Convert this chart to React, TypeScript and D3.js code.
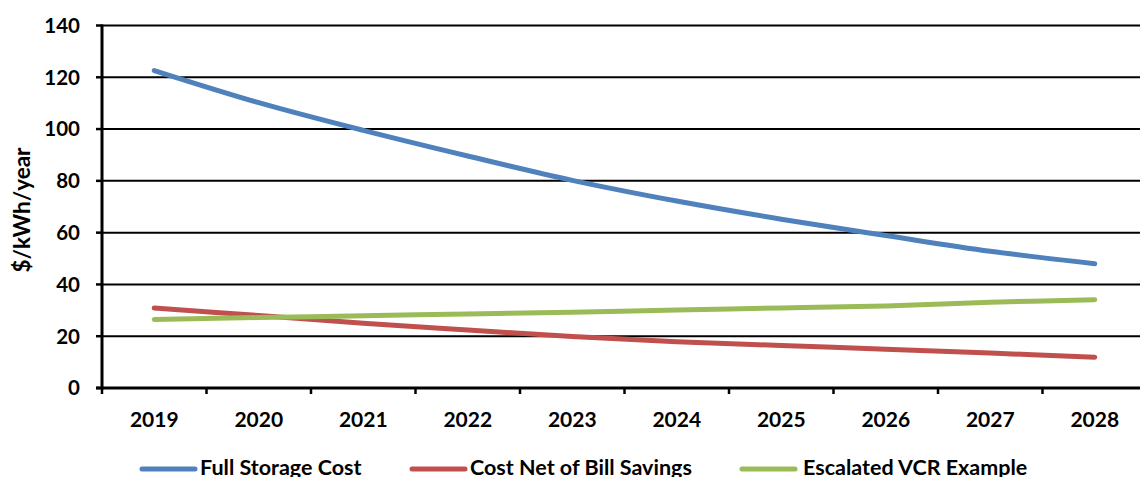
import React from "react";
import * as d3 from "d3";

const years = ["2019", "2020", "2021", "2022", "2023", "2024", "2025", "2026", "2027", "2028"];
const fullStorageCost = [122.6, 110.2, 99.5, 89.6, 80.2, 72.2, 65.2, 58.9, 52.8, 48.0];
const costNetOfBillSavings = [30.9, 28.0, 25.0, 22.4, 19.9, 17.9, 16.4, 15.0, 13.5, 11.9];
const escalatedVCR = [26.5, 27.2, 27.9, 28.6, 29.3, 30.1, 30.9, 31.7, 33.1, 34.1];
const yTicks = [0, 20, 40, 60, 80, 100, 120, 140];

const seriesNames = ["Full Storage Cost", "Cost Net of Bill Savings", "Escalated VCR Example"];
const seriesColors = ["#4F81BD", "#C0504D", "#9BBB59"];
const seriesValues = [fullStorageCost, costNetOfBillSavings, escalatedVCR];

const W = 1140;
const H = 477;
const left = 102;
const bandW = 104.5;
const top = 25.5;
const bottom = 388;
const font = "Lato, 'Open Sans', sans-serif";

export default function App() {
  const x = d3
    .scaleBand<string>()
    .domain(years)
    .range([left, left + bandW * years.length])
    .paddingInner(0)
    .paddingOuter(0);
  const y = d3.scaleLinear().domain([0, 140]).range([bottom, top]);
  const cx = (yr: string) => (x(yr) as number) + x.bandwidth() / 2;

  const line = d3
    .line<number>()
    .x((_, i) => cx(years[i]))
    .y((v) => y(v))
    .curve(d3.curveCatmullRom.alpha(0.5));

  const boundaries = years.map((yr) => x(yr) as number).concat([left + bandW * years.length]);

  const legendItems = [
    { lx: 142, tx: 200 },
    { lx: 412, tx: 470 },
    { lx: 742, tx: 803 },
  ];

  return (
    <svg
      width={W}
      height={H}
      style={{ position: "absolute", left: 0, top: 0, background: "#fff" }}
      fontFamily={font}
    >
      {/* horizontal gridlines */}
      {yTicks
        .filter((t) => t > 0)
        .map((t) => (
          <line key={t} x1={left} x2={W + 20} y1={y(t)} y2={y(t)} stroke="#000" strokeWidth={2} />
        ))}
      {/* y ticks and labels */}
      {yTicks.map((t) => (
        <g key={"yt" + t}>
          <line x1={left - 6} x2={left} y1={y(t)} y2={y(t)} stroke="#000" strokeWidth={2.5} />
          <text
            x={80}
            y={y(t)}
            dy="0.36em"
            textAnchor="end"
            fontSize={20.5}
            fontWeight="bold"
            fill="#000"
          >
            {t}
          </text>
        </g>
      ))}
      {/* x ticks */}
      {boundaries.map((b, i) => (
        <line key={"xt" + i} x1={b} x2={b} y1={bottom} y2={bottom + 6} stroke="#000" strokeWidth={2.5} />
      ))}
      {/* axes */}
      <line x1={left} x2={left} y1={top - 1} y2={bottom + 1.5} stroke="#000" strokeWidth={3} />
      <line x1={left - 6} x2={W + 20} y1={bottom} y2={bottom} stroke="#000" strokeWidth={3} />
      {/* x labels */}
      {years.map((yr) => (
        <text key={yr} x={cx(yr)} y={427} textAnchor="middle" fontSize={21} fontWeight="bold" fill="#000">
          {yr}
        </text>
      ))}
      {/* y title */}
      <text
        transform="translate(30,210) rotate(-90)"
        textAnchor="middle"
        fontSize={22.5}
        fontWeight="bold"
        fill="#000"
      >
        $/kWh/year
      </text>
      {/* series */}
      {seriesValues.map((vals, i) => (
        <path
          key={seriesNames[i]}
          d={line(vals) as string}
          fill="none"
          stroke={seriesColors[i]}
          strokeWidth={5}
          strokeLinecap="round"
          strokeLinejoin="round"
        />
      ))}
      {/* legend */}
      {seriesNames.map((name, i) => (
        <g key={"lg" + i}>
          <line
            x1={legendItems[i].lx}
            x2={legendItems[i].lx + 53}
            y1={469}
            y2={469}
            stroke={seriesColors[i]}
            strokeWidth={5}
            strokeLinecap="round"
          />
          <text x={legendItems[i].tx} y={475} fontSize={21.5} fontWeight="bold" fill="#000">
            {name}
          </text>
        </g>
      ))}
    </svg>
  );
}
